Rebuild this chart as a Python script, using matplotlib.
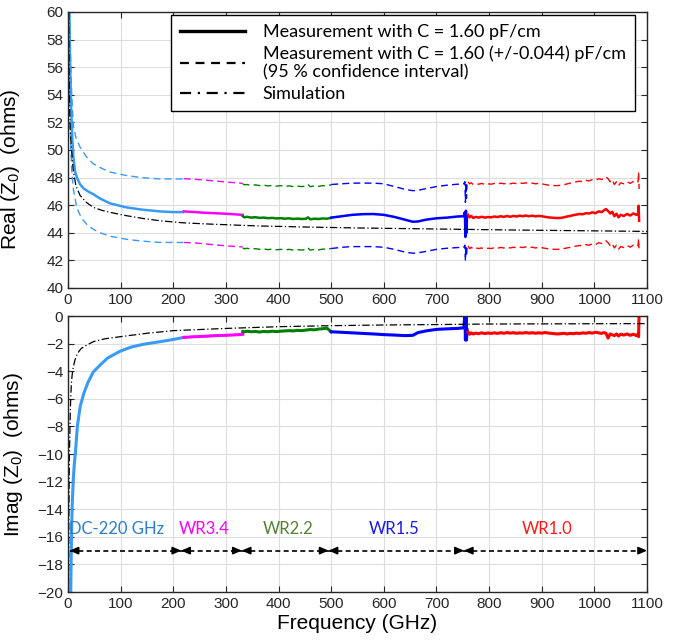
import numpy as np
import matplotlib
matplotlib.use("Agg")
import matplotlib.pyplot as plt

plt.rcParams['font.family'] = ['Liberation Sans', 'DejaVu Sans']
LBL_FONT = ['Lato', 'DejaVu Sans']

# ---------------- data ----------------
# DC-220 GHz band
f_dc = [1, 2, 3, 4, 6, 8, 10, 13, 17, 23, 30, 40, 48, 60, 80, 111, 140, 175, 200, 219]
re_dc = [66, 62, 58.5, 56, 53, 51, 49.6, 48.5, 48.0, 47.5, 47.2, 46.95, 46.8, 46.5,
         46.13, 45.84, 45.68, 45.55, 45.5, 45.5]
f_dc_hi = [1, 2, 3, 5, 7, 10, 15, 23, 35, 48, 65, 80, 111, 140, 175, 219]
re_dc_hi = [66, 63, 60, 56.5, 54, 51.8, 50.9, 50.2, 49.5, 49.0, 48.65, 48.4, 48.15, 48.0, 47.9, 47.9]
f_dc_lo = [1, 2, 3, 5, 7, 10, 16.5, 25, 35, 48, 61, 80, 111, 140, 175, 219]
re_dc_lo = [62, 57, 54, 50.5, 48.5, 47.2, 45.84, 45.1, 44.63, 44.25, 44.0, 43.75, 43.53, 43.4, 43.3, 43.3]
f_dc_im = [4.5, 5, 6, 7, 8, 10, 12, 14, 17.7, 23, 30, 38, 48, 61, 75, 99, 120, 143, 175, 200, 220]
im_dc = [-22, -20.5, -17.5, -15.2, -13.6, -11.8, -10.7, -9.9, -8.0, -6.57, -5.6, -4.8,
         -4.05, -3.55, -3.05, -2.55, -2.25, -2.05, -1.86, -1.7, -1.55]

# WR3.4
f_34 = [220, 240, 260, 280, 300, 320, 332]
re_34 = [45.55, 45.5, 45.45, 45.42, 45.38, 45.33, 45.3]
re_34_hi = [47.92, 47.88, 47.82, 47.75, 47.68, 47.62, 47.58]
re_34_lo = [43.3, 43.27, 43.2, 43.12, 43.06, 43.0, 42.98]
im_34 = [-1.55, -1.5, -1.47, -1.42, -1.4, -1.36, -1.32]

# WR2.2
f_22 = [332, 335, 340, 348, 356, 364, 372, 380, 388, 396, 404, 412,
        420, 428, 436, 444, 452, 456, 460, 468, 476, 484, 492, 500]
re_22 = [45.2, 45.12, 45.16, 45.1, 45.13, 45.08, 45.1, 45.06, 45.08, 45.04, 45.06, 45.02,
         45.05, 45.0, 45.03, 45.0, 45.02, 45.12, 44.98, 45.02, 45.0, 45.04, 45.02, 45.08]
re_22_hi = [47.55, 47.48, 47.5, 47.44, 47.47, 47.42, 47.45, 47.4, 47.43, 47.38, 47.42, 47.36,
            47.4, 47.35, 47.38, 47.35, 47.38, 47.5, 47.34, 47.4, 47.36, 47.42, 47.4, 47.48]
re_22_lo = [42.9, 42.84, 42.88, 42.82, 42.85, 42.8, 42.83, 42.78, 42.82, 42.77, 42.8, 42.76,
            42.8, 42.75, 42.78, 42.75, 42.78, 42.9, 42.74, 42.8, 42.76, 42.82, 42.8, 42.86]
im_22 = [-1.12, -1.15, -1.1, -1.14, -1.12, -1.16, -1.12, -1.14, -1.1, -1.13, -1.1, -1.08,
         -1.06, -1.08, -1.04, -1.06, -1.02, -1.0, -0.98, -1.0, -0.95, -0.92, -0.88, -1.15]

# WR1.5
f_15 = [500, 520, 540, 560, 580, 600, 620, 640, 655, 665, 680, 700, 720, 740,
        752, 754, 755, 756, 757, 758]
re_15 = [45.1, 45.2, 45.3, 45.35, 45.36, 45.3, 45.15, 44.95, 44.8, 44.82, 44.95, 45.05,
         45.1, 45.18, 45.2, 45.5, 43.7, 45.6, 44.0, 45.2]
re_15_hi = [47.5, 47.55, 47.6, 47.6, 47.6, 47.55, 47.35, 47.15, 47.05, 47.08, 47.2, 47.35,
            47.45, 47.52, 47.55, 47.7, 46.2, 47.6, 46.5, 47.5]
re_15_lo = [42.86, 42.95, 43.0, 43.0, 43.0, 42.95, 42.8, 42.6, 42.52, 42.55, 42.65, 42.8,
            42.88, 42.93, 42.95, 43.1, 41.96, 43.0, 42.3, 42.9]
im_15 = [-1.14, -1.18, -1.22, -1.26, -1.3, -1.35, -1.38, -1.42, -1.4, -1.2, -1.08, -0.97,
         -0.93, -0.9, -0.85, 0.2, -1.74, 0.2, -1.74, -1.0]

# WR1.0
f_10 = [760, 763, 766, 770, 775, 780, 786, 792, 798, 804,
        810, 816, 822, 828, 834, 840, 846, 852, 858, 864,
        870, 876, 882, 888, 894, 900, 906, 912, 918, 924,
        930, 936, 942, 948, 954, 960, 966, 972, 978, 984,
        990, 996, 1002, 1008, 1014, 1018, 1022, 1026, 1030, 1034,
        1038, 1042, 1046, 1050, 1056, 1062, 1068, 1074, 1080, 1083,
        1084, 1085]
re_10 = [45.3, 45.12, 45.22, 45.08, 45.15, 45.1, 45.16, 45.1, 45.14, 45.12,
         45.18, 45.14, 45.2, 45.15, 45.22, 45.16, 45.22, 45.18, 45.24, 45.2,
         45.25, 45.2, 45.24, 45.19, 45.22, 45.2, 45.16, 45.12, 45.1, 45.08,
         45.07, 45.08, 45.12, 45.18, 45.22, 45.28, 45.32, 45.36, 45.34, 45.42,
         45.4, 45.48, 45.42, 45.55, 45.5, 45.62, 45.72, 45.58, 45.4, 45.52,
         45.2, 45.38, 45.12, 45.3, 45.22, 45.36, 45.25, 45.4, 45.3, 45.38,
         45.96, 44.87]
re_10_hi = [47.68, 47.55, 47.62, 47.5, 47.56, 47.52, 47.58, 47.5, 47.55, 47.52,
            47.58, 47.52, 47.6, 47.55, 47.6, 47.55, 47.6, 47.56, 47.62, 47.58,
            47.62, 47.56, 47.6, 47.55, 47.58, 47.55, 47.5, 47.46, 47.44, 47.42,
            47.42, 47.44, 47.48, 47.54, 47.6, 47.65, 47.7, 47.74, 47.7, 47.8,
            47.76, 47.85, 47.8, 47.92, 47.86, 47.98, 48.05, 47.92, 47.7, 47.85,
            47.5, 47.7, 47.42, 47.62, 47.55, 47.7, 47.58, 47.72, 47.62, 47.7,
            48.4, 47.17]
re_10_lo = [43.05, 42.85, 42.95, 42.82, 42.9, 42.86, 42.9, 42.84, 42.88, 42.86,
            42.92, 42.88, 42.94, 42.9, 42.95, 42.9, 42.95, 42.92, 42.97, 42.93,
            42.98, 42.92, 42.96, 42.9, 42.94, 42.92, 42.88, 42.84, 42.82, 42.8,
            42.8, 42.82, 42.86, 42.9, 42.95, 43.0, 43.04, 43.08, 43.05, 43.14,
            43.1, 43.2, 43.14, 43.28, 43.22, 43.34, 43.42, 43.28, 43.08, 43.22,
            42.9, 43.1, 42.82, 43.0, 42.94, 43.08, 42.96, 43.1, 43.0, 43.08,
            43.6, 42.57]
im_10 = [-1.15, -1.32, -1.22, -1.3, -1.24, -1.28, -1.22, -1.27, -1.23, -1.26,
         -1.22, -1.26, -1.21, -1.25, -1.2, -1.24, -1.21, -1.25, -1.22, -1.24,
         -1.2, -1.24, -1.21, -1.25, -1.22, -1.24, -1.2, -1.23, -1.26, -1.28,
         -1.3, -1.28, -1.25, -1.3, -1.26, -1.28, -1.24, -1.27, -1.22, -1.25,
         -1.2, -1.24, -1.18, -1.22, -1.26, -1.2, -1.25, -1.6, -1.3, -1.36,
         -1.42, -1.3, -1.45, -1.32, -1.38, -1.3, -1.4, -1.32, -1.42, -1.3,
         -1.5, 0.3]

# simulation
f_sim = [0.5, 1, 2, 3, 4, 6, 10, 15, 23, 35, 48, 65, 80, 111, 140, 175, 220, 270,
         358, 450, 550, 650, 750, 850, 950, 1050, 1100]
re_sim = [70, 62, 56, 53, 51.6, 50.3, 48.5, 47.4, 46.7, 46.2, 45.84, 45.62, 45.48, 45.24,
          45.05, 44.87, 44.72, 44.63, 44.5, 44.42, 44.35, 44.3, 44.25, 44.2, 44.16, 44.12, 44.1]
f_sim_im = [0.8, 1.5, 2.5, 3.8, 5, 6.5, 8, 10, 13, 18, 25, 36, 48, 70, 99, 150, 200, 300,
            403, 500, 600, 700, 800, 900, 1000, 1100]
im_sim = [-20.5, -15, -10.5, -7.8, -6.0, -4.8, -4.2, -3.7, -3.2, -2.7, -2.35, -2.1, -1.86,
          -1.65, -1.5, -1.25, -1.06, -0.9, -0.77, -0.7, -0.65, -0.62, -0.58, -0.57, -0.56, -0.55]

# band annotations
band_names = ['DC-220 GHz', 'WR3.4', 'WR2.2', 'WR1.5', 'WR1.0']
band_text_x = [2, 258, 419, 620, 910]
band_edges = [3, 215, 330, 495, 752, 1100]
band_colors = ['#2E7DC8', '#FF00FF', '#548235', '#1A1AE6', '#FF1A1A']

c_dc, c_34, c_22, c_15, c_10 = '#3A9BF5', '#FF00FF', '#008000', '#0000FF', '#FF0000'

fig = plt.figure(figsize=(6.9, 6.44), dpi=100)
ax1 = fig.add_axes([0.0986, 0.5528, 0.8391, 0.4286])
ax2 = fig.add_axes([0.0986, 0.0807, 0.8391, 0.4286])

segments = [
    (f_dc, re_dc, f_dc_hi, re_dc_hi, f_dc_lo, re_dc_lo, c_dc),
    (f_34, re_34, f_34, re_34_hi, f_34, re_34_lo, c_34),
    (f_22, re_22, f_22, re_22_hi, f_22, re_22_lo, c_22),
    (f_15, re_15, f_15, re_15_hi, f_15, re_15_lo, c_15),
    (f_10, re_10, f_10, re_10_hi, f_10, re_10_lo, c_10),
]
for f, r, fh, rh, fl, rl, c in segments:
    ax1.plot(fh, rh, '--', color=c, lw=1.0, dashes=(5, 3))
    ax1.plot(fl, rl, '--', color=c, lw=1.0, dashes=(5, 3))
    ax1.plot(f, r, '-', color=c, lw=1.8)
ax1.plot(f_sim, re_sim, '-.', color='black', lw=0.9, dashes=(6, 2, 1, 2))

# legend proxies
ax1.plot([], [], '-', color='black', lw=2.4, label='Measurement with C = 1.60 pF/cm')
ax1.plot([], [], '--', color='black', lw=1.6, dashes=(4, 3),
         label='Measurement with C = 1.60 (+/-0.044) pF/cm\n(95 % confidence interval)')
ax1.plot([], [], '-.', color='black', lw=1.6, dashes=(5, 3, 1, 3), label='Simulation')

im_segments = [(f_dc_im, im_dc, c_dc), (f_34, im_34, c_34), (f_22, im_22, c_22),
               (f_15, im_15, c_15), (f_10, im_10, c_10)]
for f, v, c in im_segments:
    ax2.plot(f, v, '-', color=c, lw=2.2)
ax2.plot(f_sim_im, im_sim, '-.', color='black', lw=0.9, dashes=(6, 2, 1, 2))

for ax in (ax1, ax2):
    ax.set_xlim(0, 1100)
    ax.set_xticks(np.arange(0, 1101, 100))
    ax.grid(True, color='#DDDDDD', lw=0.8)
    ax.set_axisbelow(True)
    ax.tick_params(direction='in', top=True, right=True, length=4, labelsize=11,
                   colors='#262626', width=0.8)
    for s in ax.spines.values():
        s.set_color('#262626')
        s.set_linewidth(1.0)

ax1.set_ylim(40, 60)
ax1.set_yticks(np.arange(40, 61, 2))
ax2.set_ylim(-20, 0)
ax2.set_yticks(np.arange(-20, 1, 2))

ax1.set_ylabel(r'Real (Z$_\mathregular{0}$)  (ohms)', fontsize=15)
ax1.yaxis.set_label_coords(-0.079, 0.43)
ax2.set_ylabel(r'Imag (Z$_\mathregular{0}$)  (ohms)', fontsize=15)
ax2.yaxis.set_label_coords(-0.074, 0.5)
ax2.set_xlabel('Frequency (GHz)', fontsize=15, labelpad=2)

leg = ax1.legend(loc='upper right', bbox_to_anchor=(0.979, 0.989), frameon=True,
                 fancybox=False, edgecolor='black', framealpha=1,
                 prop={'family': LBL_FONT, 'size': 13}, handlelength=3.6,
                 handletextpad=1.0, labelspacing=0.3, borderpad=0.5,
                 borderaxespad=0)
leg.get_frame().set_linewidth(1.0)

# band labels and arrows
for name, tx, c in zip(band_names, band_text_x, band_colors):
    ha = 'left' if name.startswith('DC') else 'center'
    ax2.text(tx, -15.4, name, color=c, ha=ha, va='center', fontsize=12, family=LBL_FONT)
for a, b in zip(band_edges[:-1], band_edges[1:]):
    ax2.plot([a, b], [-17, -17], '--', color='black', lw=1.2, dashes=(3, 2))
    ax2.annotate('', xy=(a, -17), xytext=(a + 15, -17),
                 arrowprops=dict(arrowstyle='-|>,head_length=0.5,head_width=0.22',
                                 color='black', lw=1.2, shrinkA=0, shrinkB=0))
    ax2.annotate('', xy=(b, -17), xytext=(b - 15, -17),
                 arrowprops=dict(arrowstyle='-|>,head_length=0.5,head_width=0.22',
                                 color='black', lw=1.2, shrinkA=0, shrinkB=0))

fig.savefig('out.png', dpi=100)
